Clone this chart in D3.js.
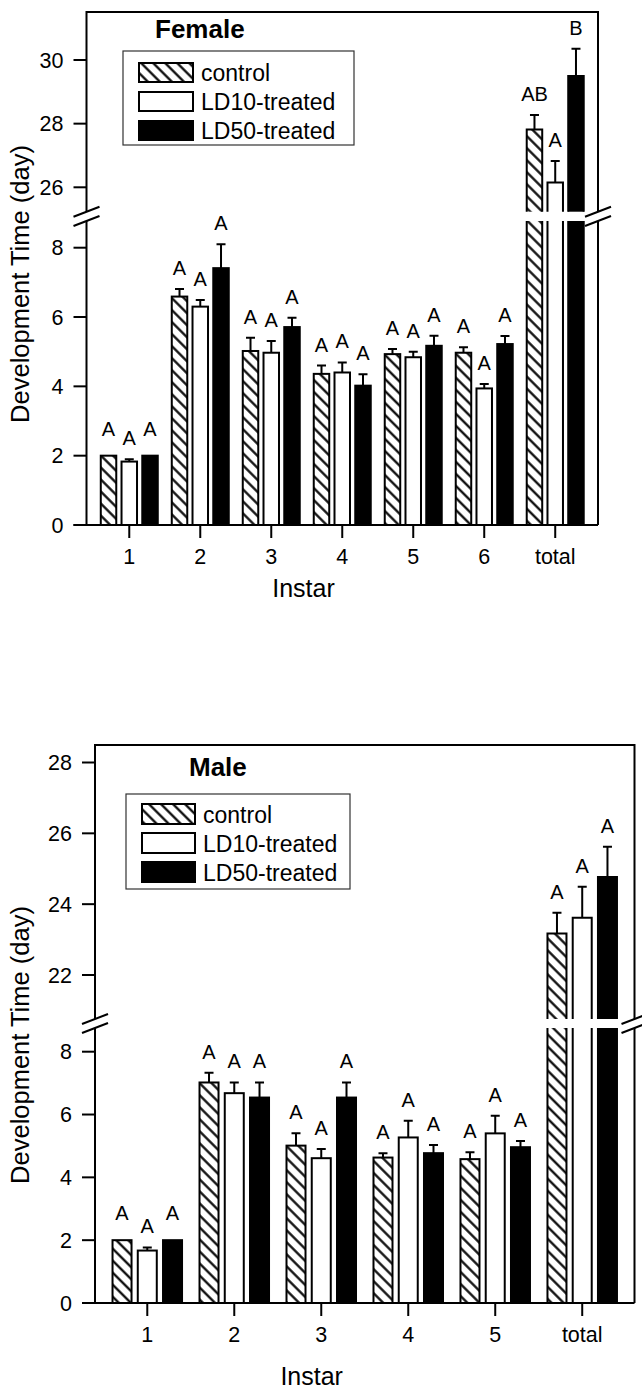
<!DOCTYPE html>
<html>
<head>
<meta charset="utf-8">
<script src="https://cdn.jsdelivr.net/npm/d3@7"></script>
<style>
  body { margin: 0; background: #fff; }
  text { font-family: Arial, "Liberation Sans", sans-serif; fill: #000; }
</style>
</head>
<body>
<svg id="chart" width="642" height="1391"></svg>
<script>
// series names (legend order)
const seriesNames = ["control", "LD10-treated", "LD50-treated"];

// Female panel
const femaleInstars = ["1", "2", "3", "4", "5", "6", "total"];
const femaleControl = [2.0, 6.59, 5.02, 4.36, 4.93, 4.97, 27.82];
const femaleControlErr = [0, 0.22, 0.38, 0.24, 0.15, 0.16, 0.45];
const femaleLD10 = [1.83, 6.30, 4.97, 4.40, 4.84, 3.94, 26.15];
const femaleLD10Err = [0.07, 0.19, 0.34, 0.29, 0.16, 0.13, 0.68];
const femaleLD50 = [2.0, 7.41, 5.71, 4.02, 5.17, 5.22, 29.50];
const femaleLD50Err = [0, 0.69, 0.27, 0.33, 0.29, 0.23, 0.85];
const femaleControlLetters = ["A", "A", "A", "A", "A", "A", "AB"];
const femaleLD10Letters = ["A", "A", "A", "A", "A", "A", "A"];
const femaleLD50Letters = ["A", "A", "A", "A", "A", "A", "B"];

// Male panel
const maleInstars = ["1", "2", "3", "4", "5", "total"];
const maleControl = [2.0, 7.02, 5.01, 4.63, 4.58, 23.17];
const maleControlErr = [0, 0.31, 0.39, 0.14, 0.22, 0.59];
const maleLD10 = [1.67, 6.68, 4.61, 5.27, 5.40, 23.62];
const maleLD10Err = [0.10, 0.34, 0.29, 0.53, 0.56, 0.87];
const maleLD50 = [2.0, 6.54, 6.54, 4.77, 4.96, 24.77];
const maleLD50Err = [0, 0.48, 0.48, 0.26, 0.20, 0.85];
const maleLetters = ["A", "A", "A", "A", "A", "A"];

// axis ticks
const lowerTicks = [0, 2, 4, 6, 8];
const femaleUpperTicks = [26, 28, 30];
const maleUpperTicks = [22, 24, 26, 28];

const svg = d3.select("#chart");
const defs = svg.append("defs");

// diagonal hatch for control bars
const hatch = defs.append("pattern")
  .attr("id", "hatch")
  .attr("patternUnits", "userSpaceOnUse")
  .attr("width", 8.5).attr("height", 8.5)
  .attr("patternTransform", "rotate(-45)");
hatch.append("rect").attr("width", 8.5).attr("height", 8.5).attr("fill", "#fff");
hatch.append("line")
  .attr("x1", 4.25).attr("y1", 0).attr("x2", 4.25).attr("y2", 8.5)
  .attr("stroke", "#000").attr("stroke-width", 2.2);

const fills = ["url(#hatch)", "#fff", "#000"];

const panels = [
  {
    title: "Female", titleX: 155, titleY: 37.5,
    cats: femaleInstars,
    series: [
      { mean: femaleControl, err: femaleControlErr, letters: femaleControlLetters },
      { mean: femaleLD10, err: femaleLD10Err, letters: femaleLD10Letters },
      { mean: femaleLD50, err: femaleLD50Err, letters: femaleLD50Letters }
    ],
    left: 86.5, right: 598, top: 12, bottom: 525,
    outerPad: 0.187, innerPad: 0.169, barPad: 0.157,
    lowRange: [525, 247.7], lowTop: 221,
    upDomain: [26, 30], upRange: [187.3, 60], upBottom: 211.7, upTicks: femaleUpperTicks,
    legend: { x: 123, y: 51, w: 231, h: 94, sw: 54, sh: 19, row: 29, pad: 12 },
    yLabelY: 284, xLabelX: 303.5, xLabelY: 597
  },
  {
    title: "Male", titleX: 189, titleY: 776,
    cats: maleInstars,
    series: [
      { mean: maleControl, err: maleControlErr, letters: maleLetters },
      { mean: maleLD10, err: maleLD10Err, letters: maleLetters },
      { mean: maleLD50, err: maleLD50Err, letters: maleLetters }
    ],
    left: 95, right: 634.5, top: 745, bottom: 1303,
    outerPad: 0.19, innerPad: 0.178, barPad: 0.168,
    lowRange: [1303, 1051.7], lowTop: 1028,
    upDomain: [22, 28], upRange: [975, 762.5], upBottom: 1019, upTicks: maleUpperTicks,
    legend: { x: 126, y: 794, w: 224, h: 95, sw: 53, sh: 20, row: 29, pad: 10 },
    yLabelY: 1045, xLabelX: 311.7, xLabelY: 1385
  }
];

function drawPanel(p) {
  const g = svg.append("g");

  const x0 = d3.scaleBand()
    .domain(p.cats)
    .range([p.left, p.right])
    .paddingInner(p.innerPad)
    .paddingOuter(p.outerPad);
  const x1 = d3.scaleBand()
    .domain(d3.range(3))
    .range([0, x0.bandwidth()])
    .paddingInner(p.barPad);

  const yLow = d3.scaleLinear().domain([0, 8]).range(p.lowRange);
  const yUp = d3.scaleLinear().domain(p.upDomain).range(p.upRange);
  const lowMax = yLow.invert(p.lowTop);
  const yOf = v => (v <= lowMax ? yLow(v) : yUp(v));

  const line = (d) => g.append("path").attr("d", d)
    .attr("stroke", "#000").attr("stroke-width", 2).attr("fill", "none");

  // bars
  p.series.forEach((s, si) => {
    p.cats.forEach((c, ci) => {
      const v = s.mean[ci], e = s.err[ci];
      const bx = x0(c) + x1(si) + 1;
      const bw = x1.bandwidth() - 2;
      const fill = fills[si];

      if (v <= lowMax) {
        g.append("rect")
          .attr("x", bx).attr("y", yLow(v))
          .attr("width", bw).attr("height", p.bottom - yLow(v))
          .attr("fill", fill).attr("stroke", "#000").attr("stroke-width", 2);
      } else {
        // lower part, cut at the break
        g.append("rect")
          .attr("x", bx).attr("y", p.lowTop)
          .attr("width", bw).attr("height", p.bottom - p.lowTop)
          .attr("fill", fill);
        line(`M${bx},${p.lowTop}V${p.bottom}M${bx + bw},${p.lowTop}V${p.bottom}`);
        // upper part
        const yt = yUp(v);
        g.append("rect")
          .attr("x", bx).attr("y", yt)
          .attr("width", bw).attr("height", p.upBottom - yt)
          .attr("fill", fill);
        line(`M${bx},${p.upBottom}V${yt}H${bx + bw}V${p.upBottom}`);
      }

      // error bar (upper side only)
      const cx = bx + bw / 2;
      let yCap = yOf(v);
      if (e > 0) {
        yCap = yOf(v + e);
        line(`M${cx},${yOf(v)}V${yCap}M${cx - 4.5},${yCap}H${cx + 4.5}`);
      }

      // significance letter
      g.append("text")
        .attr("x", cx)
        .attr("y", yCap - (e > 0 ? 14 : 20))
        .attr("text-anchor", "middle")
        .attr("font-size", 20)
        .text(s.letters[ci]);
    });
  });

  // frame with axis breaks
  line(`M${p.left},${p.upBottom}V${p.top}H${p.right}V${p.upBottom}`);
  line(`M${p.left},${p.lowTop}V${p.bottom}M${p.right},${p.lowTop}V${p.bottom}`);
  line(`M${p.left - 13},${p.bottom}H${p.right}`);

  [p.left, p.right].forEach(sx => {
    [p.upBottom, p.lowTop].forEach(by => {
      line(`M${sx - 13},${by + 5}L${sx + 13},${by - 5}`);
    });
  });

  // y ticks, both segments
  const yTick = (t, y) => {
    line(`M${p.left - 13},${y}H${p.left}`);
    g.append("text")
      .attr("x", p.left - 23).attr("y", y).attr("dy", "0.36em")
      .attr("text-anchor", "end").attr("font-size", 21.5)
      .text(t);
  };
  lowerTicks.forEach(t => yTick(t, yLow(t)));
  p.upTicks.forEach(t => yTick(t, yUp(t)));

  // x ticks
  p.cats.forEach(c => {
    const cx = x0(c) + x0.bandwidth() / 2;
    line(`M${cx},${p.bottom}V${p.bottom + 13}`);
    g.append("text")
      .attr("x", cx).attr("y", p.bottom + 39)
      .attr("text-anchor", "middle").attr("font-size", 21.5)
      .text(c);
  });

  // axis titles
  g.append("text")
    .attr("transform", `translate(20,${p.yLabelY}) rotate(-90)`)
    .attr("text-anchor", "middle").attr("dy", "0.35em")
    .attr("font-size", 25.5)
    .text("Development Time (day)");
  g.append("text")
    .attr("x", p.xLabelX).attr("y", p.xLabelY)
    .attr("text-anchor", "middle").attr("font-size", 25)
    .text("Instar");

  // panel title
  g.append("text")
    .attr("x", p.titleX).attr("y", p.titleY)
    .attr("font-size", 26).attr("font-weight", "bold")
    .text(p.title);

  // legend
  const L = p.legend;
  g.append("rect")
    .attr("x", L.x).attr("y", L.y)
    .attr("width", L.w).attr("height", L.h)
    .attr("fill", "#fff").attr("stroke", "#333").attr("stroke-width", 1.2);
  seriesNames.forEach((name, i) => {
    const ry = L.y + L.pad + i * L.row;
    g.append("rect")
      .attr("x", L.x + 16).attr("y", ry)
      .attr("width", L.sw).attr("height", L.sh)
      .attr("fill", fills[i]).attr("stroke", "#000").attr("stroke-width", 2);
    g.append("text")
      .attr("x", L.x + 16 + L.sw + 8).attr("y", ry + L.sh - 1)
      .attr("font-size", 23)
      .text(name);
  });
}

panels.forEach(drawPanel);
</script>
</body>
</html>
